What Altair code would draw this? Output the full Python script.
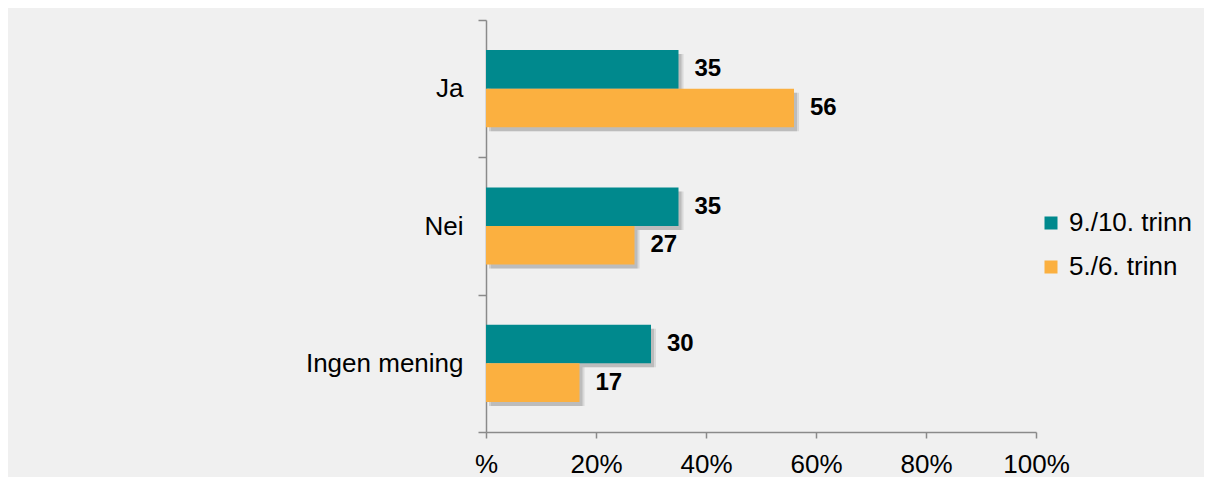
import altair as alt
import pandas as pd

categories = ["Ja", "Nei", "Ingen mening"]
series_names = ["9./10. trinn", "5./6. trinn"]
values_9_10 = [35, 35, 30]
values_5_6 = [56, 27, 17]
x_ticks = [0, 20, 40, 60, 80, 100]
colors = ["#00898D", "#FBB040"]

rows = []
for c, a, b in zip(categories, values_9_10, values_5_6):
    rows.append({"kat": c, "serie": series_names[0], "verdi": a})
    rows.append({"kat": c, "serie": series_names[1], "verdi": b})
df = pd.DataFrame(rows)

FONT = "Liberation Sans"
BAND = 412 / 3

y_enc = alt.Y("kat:N", sort=categories,
              scale=alt.Scale(paddingInner=0, paddingOuter=0),
              axis=alt.Axis(title=None, tickBand="extent", labelFontSize=26,
                            labelFont=FONT, labelColor="#000000", labelPadding=15,
                            domainColor="#8A8A8A", tickColor="#8A8A8A",
                            domainWidth=1.5, tickWidth=1.5, tickSize=8))
yoff = alt.YOffset("serie:N", sort=series_names,
                   scale=alt.Scale(paddingInner=0, paddingOuter=0.78))
yoff_shadow = alt.YOffset("serie:N", sort=series_names,
                          scale=alt.Scale(paddingInner=0, paddingOuter=0.78,
                                          range=[4, BAND + 4]))
x_enc = alt.X("verdi:Q", scale=alt.Scale(domain=[0, 100], nice=False),
              axis=alt.Axis(title=None, values=x_ticks, grid=False, labelFlush=False,
                            labelExpr="datum.value == 0 ? '%' : datum.value + '%'",
                            labelFontSize=26, labelFont=FONT, labelColor="#000000",
                            labelPadding=13, domainColor="#8A8A8A", tickColor="#8A8A8A",
                            domainWidth=1.5, tickWidth=1.5, tickSize=6))

base = alt.Chart(df)

shadow1 = base.mark_bar(color="#555555", opacity=0.15, xOffset=5).encode(
    x=x_enc, y=y_enc, yOffset=yoff_shadow)
shadow2 = base.mark_bar(color="#555555", opacity=0.22, xOffset=3).encode(
    x=x_enc, y=y_enc, yOffset=yoff_shadow)
shadows = alt.layer(shadow1, shadow2)

bars = base.mark_bar().encode(
    x=x_enc, y=y_enc, yOffset=yoff,
    color=alt.Color("serie:N", sort=series_names,
                    scale=alt.Scale(domain=series_names, range=colors),
                    legend=alt.Legend(title=None, orient="none", legendX=552, legendY=190,
                                      symbolType="square", symbolSize=169,
                                      symbolStrokeWidth=0, labelFontSize=26,
                                      labelFont=FONT, labelColor="#000000",
                                      labelOffset=5, rowPadding=18)),
)

labels = base.mark_text(align="left", baseline="middle", dx=16, fontSize=24,
                        fontWeight="bold", font=FONT, color="#000000").encode(
    x="verdi:Q", y=alt.Y("kat:N", sort=categories), yOffset=yoff,
    text=alt.Text("verdi:Q", format="d"))

front = alt.layer(bars, labels)

chart = alt.layer(shadows, front).resolve_scale(yOffset="independent").properties(
    width=550, height=412,
    autosize=alt.AutoSizeParams(type="none"),
    padding={"left": 478, "top": 12, "right": 168, "bottom": 50},
    background="#F0F0F0",
).configure_view(stroke=None)

chart.save("out.html", embed_options={"renderer": "svg", "actions": False})
